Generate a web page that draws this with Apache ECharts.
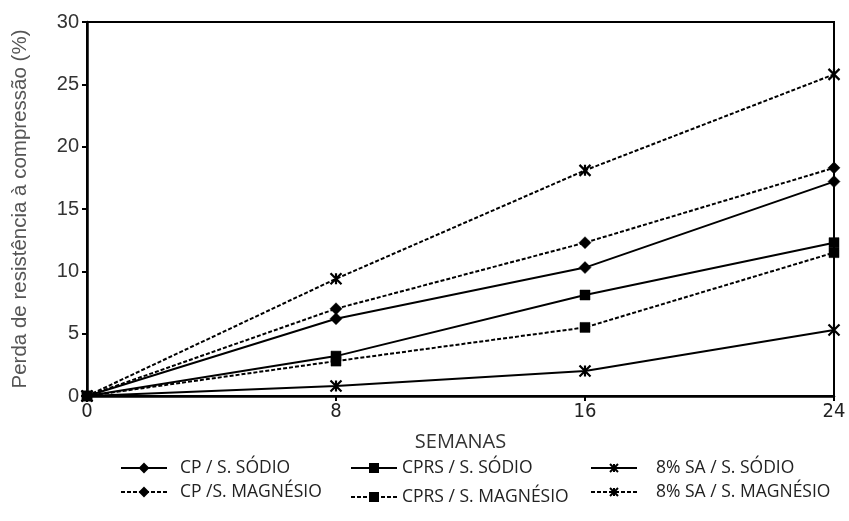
<!DOCTYPE html>
<html>
<head>
<meta charset="utf-8">
<script src="https://cdn.jsdelivr.net/npm/echarts@6/dist/echarts.min.js"></script>
<style>
  html, body { margin: 0; padding: 0; background: #fff; }
  #chart { width: 849px; height: 521px; }
</style>
</head>
<body>
<div id="chart"></div>
<script>
// Weeks of exposure (x axis)
const weeks = [0, 8, 16, 24];
const yTicks = [0, 5, 10, 15, 20, 25, 30];

// Loss of compressive strength (%) per mix / sulfate solution
const cpSodio = [0, 6.2, 10.3, 17.2];
const cpMagnesio = [0, 7.0, 12.3, 18.3];
const cprsSodio = [0, 3.2, 8.1, 12.3];
const cprsMagnesio = [0, 2.8, 5.5, 11.5];
const saSodio = [0, 0.8, 2.0, 5.3];
const saMagnesio = [0, 9.4, 18.1, 25.8];

const names = [
  'CP / S. SÓDIO', 'CPRS / S. SÓDIO', '8% SA / S. SÓDIO',
  'CP /S. MAGNÉSIO', 'CPRS / S. MAGNÉSIO', '8% SA / S. MAGNÉSIO'
];

const starPath = 'path://M0,0L10,10M10,0L0,10M5,0L5,10';

function pairs(vals) { return weeks.map((w, i) => [w, vals[i]]); }

function makeSeries(name, vals, symbol, size, dashed) {
  const isStar = symbol === starPath;
  return {
    name: name,
    type: 'line',
    data: pairs(vals),
    symbol: symbol,
    symbolSize: size,
    showAllSymbol: true,
    lineStyle: { color: '#000', width: 2, type: dashed ? [4, 2] : 'solid' },
    itemStyle: { color: '#000', borderColor: '#000', borderWidth: isStar ? 2.2 : 0.5 },
    z: 3
  };
}

const series = [
  makeSeries(names[0], cpSodio, 'diamond', 12, false),
  makeSeries(names[1], cprsSodio, 'rect', 10, false),
  makeSeries(names[2], saSodio, starPath, 11, false),
  makeSeries(names[3], cpMagnesio, 'diamond', 12, true),
  makeSeries(names[4], cprsMagnesio, 'rect', 10, true),
  makeSeries(names[5], saMagnesio, starPath, 11, true)
];

const legendFont = { fontFamily: 'Open Sans', fontSize: 17.5, color: '#222' };
const legendPos = [
  { left: 120, top: 459, pad: 8 },
  { left: 350, top: 459, pad: 0 },
  { left: 590, top: 459, pad: 14 },
  { left: 120, top: 483, pad: 8 },
  { left: 350, top: 488, pad: 0 },
  { left: 590, top: 483, pad: 14 }
];
const legends = names.map((n, i) => ({
  data: [n],
  left: legendPos[i].left,
  top: legendPos[i].top,
  itemWidth: 46,
  itemHeight: 10,
  padding: 0,
  selectedMode: false,
  textStyle: Object.assign({ padding: [0, 0, 0, legendPos[i].pad] }, legendFont)
}));

const chart = echarts.init(document.getElementById('chart'), null, { renderer: 'canvas' });
chart.setOption({
  animation: false,
  backgroundColor: '#fff',
  grid: {
    left: 87, right: 15, top: 22, bottom: 125,
    show: true, borderColor: '#000', borderWidth: 2
  },
  legend: legends,
  xAxis: {
    type: 'value',
    min: weeks[0], max: weeks[weeks.length - 1], interval: 8,
    name: 'SEMANAS',
    nameLocation: 'middle',
    nameGap: 36,
    nameTextStyle: { fontFamily: 'Open Sans', fontSize: 20, color: '#333' },
    axisLine: { lineStyle: { color: '#000', width: 2.5 } },
    axisTick: { show: true, length: 5, lineStyle: { color: '#000', width: 2 } },
    axisLabel: { fontFamily: '"DejaVu Sans Condensed", "Open Sans", sans-serif', fontSize: 20, color: '#222', margin: 6 },
    splitLine: { show: false }
  },
  yAxis: {
    type: 'value',
    min: yTicks[0], max: yTicks[yTicks.length - 1], interval: 5,
    name: 'Perda de resistência à compressão (%)',
    nameLocation: 'middle',
    nameGap: 56,
    nameTextStyle: { fontFamily: 'Liberation Sans', fontSize: 20.5, color: '#555' },
    axisLine: { lineStyle: { color: '#000', width: 2.5 } },
    axisTick: { show: true, length: 5, lineStyle: { color: '#000', width: 2 } },
    axisLabel: { fontFamily: 'Liberation Sans', fontSize: 20, color: '#333', margin: 8 },
    splitLine: { show: false }
  },
  series: series
});
</script>
</body>
</html>
